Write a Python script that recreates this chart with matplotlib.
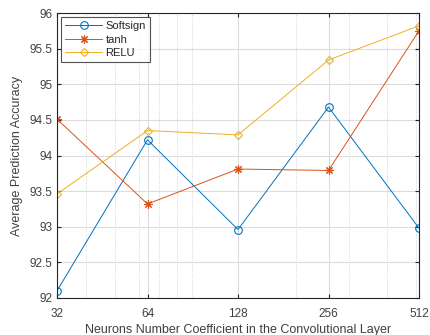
import matplotlib
matplotlib.use("Agg")
import matplotlib.pyplot as plt
from matplotlib.ticker import FixedLocator, LogLocator, NullFormatter

plt.rcParams['font.family'] = ['Liberation Sans', 'DejaVu Sans']

neurons = [32, 64, 128, 256, 512]
softsign = [92.10, 94.22, 92.96, 94.68, 92.98]
tanh = [94.51, 93.32, 93.81, 93.79, 95.75]
relu = [93.46, 94.35, 94.29, 95.34, 95.82]
yticks = [92, 92.5, 93, 93.5, 94, 94.5, 95, 95.5, 96]
ytick_labels = ['92', '92.5', '93', '93.5', '94', '94.5', '95', '95.5', '96']

fig = plt.figure(figsize=(4.3, 3.35), dpi=100)
ax = fig.add_axes([57/430, 1 - 298/335, (419-57)/430, (298-13)/335])

ax.plot(neurons, softsign, color='#0072BD', marker='o', markersize=5.5, mfc='none', mew=0.8, lw=0.7, label='Softsign')
ax.plot(neurons, tanh, color='#D95319', marker=(8, 2, 0), markersize=6, mfc='none', mew=0.8, lw=0.7, label='tanh')
ax.plot(neurons, relu, color='#EDB120', marker='D', markersize=4.5, mfc='none', mew=0.8, lw=0.7, label='RELU')

ax.set_xscale('log')
ax.set_xlim(32, 512)
ax.set_ylim(92, 96)
ax.xaxis.set_major_locator(FixedLocator(neurons))
ax.set_xticklabels([str(n) for n in neurons])
ax.xaxis.set_minor_locator(LogLocator(base=10, subs=range(2, 10)))
ax.xaxis.set_minor_formatter(NullFormatter())
ax.set_yticks(yticks)
ax.set_yticklabels(ytick_labels)

ax.grid(True, which='major', color='#dcdcdc', lw=0.8)
ax.grid(True, which='minor', axis='x', color='#c8c8c8', lw=0.6, ls=':')
ax.set_axisbelow(True)

for s in ax.spines.values():
    s.set_color('#262626')
    s.set_linewidth(0.8)
ax.tick_params(which='both', direction='in', top=True, right=True, colors='#262626', labelsize=8.5)
ax.tick_params(axis='x', pad=7)
ax.tick_params(axis='y', pad=3)
ax.tick_params(which='major', length=3)
ax.tick_params(which='minor', length=0)
for lbl in ax.get_xticklabels() + ax.get_yticklabels():
    lbl.set_color('#404040')

ax.set_xlabel('Neurons Number Coefficient in the Convolutional Layer', fontsize=9, color='#404040', labelpad=3)
ax.set_ylabel('Average Prediction Accuracy', fontsize=9, color='#404040', labelpad=5)

leg = ax.legend(loc='upper left', fontsize=8, frameon=True, fancybox=False,
                edgecolor='#262626', borderpad=0.4, handlelength=3.3, handletextpad=0.3,
                labelspacing=0.3, borderaxespad=0.35)
leg.get_frame().set_linewidth(0.8)
for t in leg.get_texts():
    t.set_color('#262626')

fig.savefig('out.png', dpi=100)
